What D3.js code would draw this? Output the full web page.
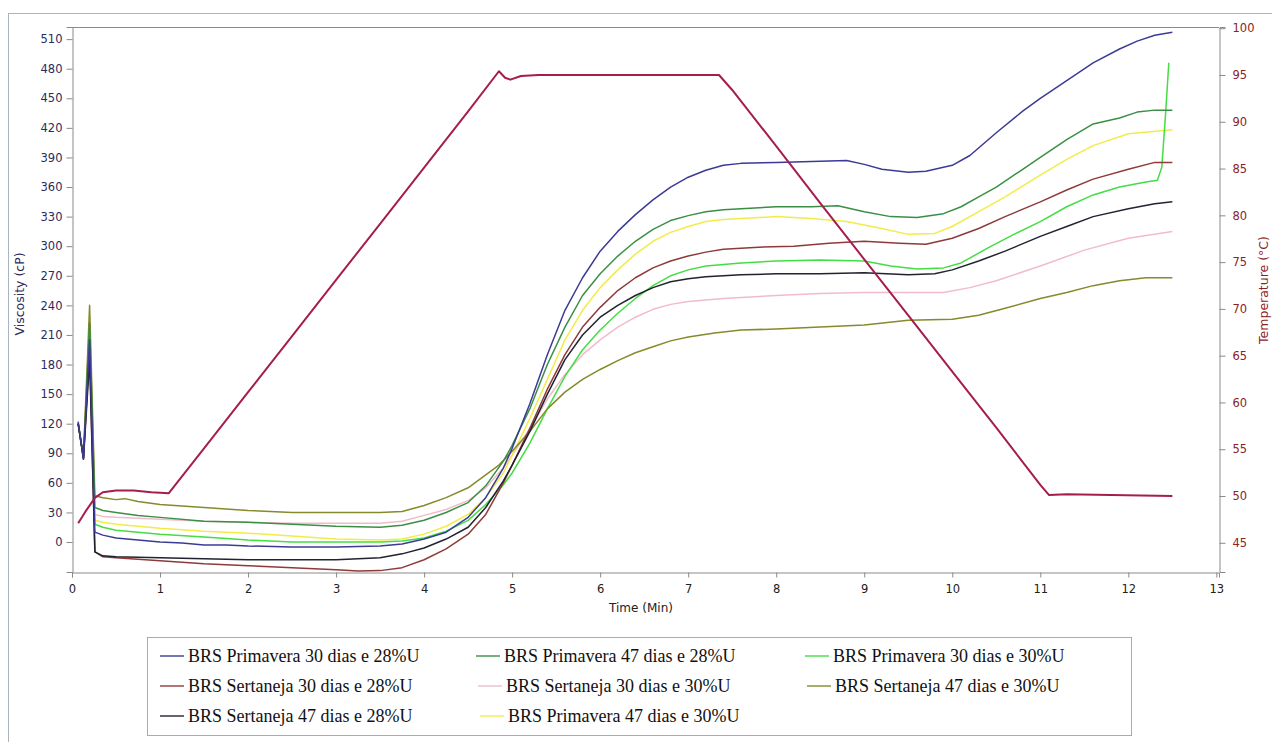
<!DOCTYPE html>
<html><head><meta charset="utf-8">
<script src="https://cdn.jsdelivr.net/npm/d3@7"></script>
<style>body{margin:0;background:#fff}svg{display:block}</style>
</head><body>
<svg id="c" width="1272" height="742"></svg>
<script>
// ---- data ----
const seriesNames = [
  "BRS Primavera 30 dias e 28%U","BRS Primavera 47 dias e 28%U","BRS Primavera 30 dias e 30%U",
  "BRS Sertaneja 30 dias e 28%U","BRS Sertaneja 30 dias e 30%U","BRS Sertaneja 47 dias e 30%U",
  "BRS Sertaneja 47 dias e 28%U","BRS Primavera 47 dias e 30%U"
];
const seriesColors = ["#3b3b96","#3a8f45","#44dd44","#8e3a3a","#f0bccb","#858a2a","#222230","#f2ec48"];
const xTicks = [0,1,2,3,4,5,6,7,8,9,10,11,12,13];
const yLeftTicks = [0,30,60,90,120,150,180,210,240,270,300,330,360,390,420,450,480,510];
const yRightTicks = [45,50,55,60,65,70,75,80,85,90,95,100];

// [time (min), viscosity (cP)]
const primavera30_28 = [[0.07,122],[0.13,84],[0.2,205],[0.26,10],[0.35,7],[0.5,4],[0.75,2],[1.0,0],[1.25,-1],[1.5,-3],[1.75,-3],[2.0,-4],[2.5,-5],[3.0,-5],[3.5,-4],[3.75,-2],[4.0,3],[4.25,10],[4.5,25],[4.7,45],[4.9,75],[5.0,95],[5.2,140],[5.4,190],[5.6,235],[5.8,268],[6.0,295],[6.2,315],[6.4,332],[6.6,347],[6.8,360],[7.0,370],[7.2,377],[7.4,382],[7.6,384],[8.0,385],[8.4,386],[8.8,387],[9.0,383],[9.2,378],[9.5,375],[9.7,376],[10.0,382],[10.2,392],[10.5,415],[10.8,437],[11.0,450],[11.3,468],[11.6,486],[11.9,500],[12.1,508],[12.3,514],[12.5,517]];
const primavera47_28 = [[0.07,120],[0.13,86],[0.2,222],[0.26,35],[0.35,32],[0.5,30],[0.75,27],[1.0,25],[1.5,21],[2.0,20],[2.5,18],[3.0,16],[3.5,15],[3.75,17],[4.0,22],[4.25,30],[4.5,40],[4.7,57],[4.9,82],[5.0,98],[5.2,135],[5.4,180],[5.6,218],[5.8,250],[6.0,272],[6.2,290],[6.4,305],[6.6,317],[6.8,326],[7.0,331],[7.2,335],[7.4,337],[7.6,338],[8.0,340],[8.4,340],[8.7,341],[9.0,335],[9.3,330],[9.6,329],[9.9,333],[10.1,340],[10.3,350],[10.5,360],[10.8,378],[11.0,390],[11.3,408],[11.6,424],[11.9,430],[12.1,436],[12.3,438],[12.5,438]];
const primavera30_30 = [[0.07,120],[0.13,86],[0.2,212],[0.26,18],[0.35,15],[0.5,12],[1.0,8],[1.5,5],[2.0,2],[2.5,0],[3.0,0],[3.5,0],[3.75,1],[4.0,4],[4.25,11],[4.5,22],[4.7,38],[4.9,58],[5.0,70],[5.2,100],[5.4,135],[5.6,168],[5.8,195],[6.0,215],[6.2,232],[6.4,247],[6.6,260],[6.8,270],[7.0,276],[7.2,280],[7.6,283],[8.0,285],[8.5,286],[9.0,285],[9.3,280],[9.6,277],[9.9,278],[10.1,283],[10.4,298],[10.7,312],[11.0,325],[11.3,340],[11.6,352],[11.9,360],[12.2,365],[12.33,367],[12.38,380],[12.42,430],[12.46,486]];
const sertaneja30_28 = [[0.07,120],[0.13,85],[0.2,195],[0.26,-10],[0.35,-15],[0.5,-16],[1.0,-19],[1.5,-22],[2.0,-24],[2.5,-26],[3.0,-28],[3.25,-29.5],[3.5,-29],[3.75,-26],[4.0,-18],[4.25,-7],[4.5,8],[4.7,28],[4.9,60],[5.0,78],[5.2,115],[5.4,155],[5.6,190],[5.8,218],[6.0,238],[6.2,255],[6.4,268],[6.6,278],[6.8,285],[7.0,290],[7.2,294],[7.4,297],[7.8,299],[8.2,300],[8.6,303],[9.0,305],[9.4,303],[9.7,302],[10.0,308],[10.3,318],[10.6,330],[11.0,345],[11.3,357],[11.6,368],[12.0,378],[12.3,385],[12.5,385]];
const sertaneja30_30 = [[0.07,120],[0.13,86],[0.2,200],[0.26,28],[0.35,26],[0.5,25],[1.0,23],[1.5,21],[2.0,20],[2.5,19],[3.0,19],[3.5,19],[3.75,21],[4.0,27],[4.25,33],[4.5,42],[4.7,55],[4.9,75],[5.0,88],[5.2,115],[5.4,145],[5.6,170],[5.8,190],[6.0,205],[6.2,218],[6.4,228],[6.6,236],[6.8,241],[7.0,244],[7.4,247],[8.0,250],[8.5,252],[9.0,253],[9.5,253],[9.9,253],[10.2,258],[10.5,265],[11.0,280],[11.5,296],[12.0,308],[12.5,315]];
const sertaneja47_30 = [[0.07,120],[0.13,86],[0.2,240],[0.26,47],[0.35,45],[0.5,43],[0.6,44],[0.75,41],[1.0,38],[1.5,35],[2.0,32],[2.5,30],[3.0,30],[3.5,30],[3.75,31],[4.0,37],[4.25,45],[4.5,55],[4.7,68],[4.85,78],[5.0,92],[5.2,112],[5.4,135],[5.6,152],[5.8,165],[6.0,175],[6.2,184],[6.4,192],[6.6,198],[6.8,204],[7.0,208],[7.3,212],[7.6,215],[8.0,216],[8.5,218],[9.0,220],[9.5,225],[10.0,226],[10.3,230],[10.6,237],[11.0,247],[11.3,253],[11.6,260],[11.9,265],[12.2,268],[12.5,268]];
const sertaneja47_28 = [[0.07,120],[0.13,84],[0.2,185],[0.26,-10],[0.35,-14],[0.5,-15],[1.0,-16],[1.5,-17],[2.0,-18],[2.5,-18],[3.0,-18],[3.5,-16],[3.75,-12],[4.0,-6],[4.25,3],[4.5,15],[4.7,35],[4.9,62],[5.0,78],[5.2,112],[5.4,150],[5.6,185],[5.8,210],[6.0,228],[6.2,240],[6.4,250],[6.6,258],[6.8,264],[7.0,267],[7.2,269],[7.6,271],[8.0,272],[8.5,272],[9.0,273],[9.5,271],[9.8,272],[10.0,276],[10.3,285],[10.6,295],[11.0,310],[11.3,320],[11.6,330],[12.0,338],[12.3,343],[12.5,345]];
const primavera47_30 = [[0.07,120],[0.13,86],[0.2,210],[0.26,22],[0.35,20],[0.5,18],[1.0,14],[1.5,11],[2.0,9],[2.5,6],[3.0,3],[3.5,2],[3.75,3],[4.0,8],[4.25,16],[4.5,28],[4.7,45],[4.9,70],[5.0,88],[5.2,125],[5.4,165],[5.6,205],[5.8,235],[6.0,258],[6.2,276],[6.4,292],[6.6,305],[6.8,314],[7.0,320],[7.2,325],[7.4,327],[7.8,329],[8.0,330],[8.4,328],[8.8,325],[9.2,318],[9.5,312],[9.8,313],[10.0,320],[10.3,335],[10.6,350],[11.0,372],[11.3,388],[11.6,402],[12.0,414],[12.5,418]];
// [time (min), temperature (°C)]
const temperature = [[0.07,47.1],[0.15,48.3],[0.26,49.8],[0.35,50.4],[0.5,50.6],[0.7,50.6],[0.9,50.4],[1.1,50.3],[1.5,55.1],[2.0,61.1],[2.5,67.1],[3.0,73.1],[3.5,79.1],[4.0,85.1],[4.5,91.1],[4.85,95.4],[4.92,94.7],[4.98,94.5],[5.1,94.9],[5.3,95.0],[6.0,95.0],[6.5,95.0],[7.0,95.0],[7.35,95.0],[7.5,93.4],[8.0,87.4],[8.5,81.3],[9.0,75.3],[9.5,69.3],[10.0,63.3],[10.5,57.3],[11.0,51.2],[11.1,50.1],[11.3,50.2],[11.8,50.1],[12.5,50.0]];

const viscSeries = [primavera30_28, primavera47_28, primavera30_30, sertaneja30_28, sertaneja30_30, sertaneja47_30, sertaneja47_28, primavera47_30];

// ---- layout ----
const svg = d3.select("#c");
const L = 72, R = 1219, T = 27, B = 572;
const x = d3.scaleLinear().domain([0, 13.03]).range([L, R]);
const yL = d3.scaleLinear().domain([-30.4, 522.3]).range([B, T]);
const yR = d3.scaleLinear().domain([41.88, 100.13]).range([B, T]);
const SANS = "'DejaVu Sans', sans-serif";
const SERIF = "'Liberation Serif', 'Times New Roman', serif";

// outer frame
svg.append("rect").attr("x",8.5).attr("y",13.5).attr("width",1300).attr("height",800)
  .attr("fill","none").attr("stroke","#a9b6c2").attr("stroke-width",1);

// plot frame top
svg.append("line").attr("x1",L).attr("x2",R).attr("y1",T+0.5).attr("y2",T+0.5).attr("stroke","#8a8a8a");

function styleAxis(g, color, dx, dy){
  g.attr("font-family",null).attr("font-size",null);
  g.selectAll("path,line").attr("stroke","#8a8a8a");
  const t = g.selectAll("text").attr("fill",color).style("font-family",SANS).style("font-size","11.5px");
  if(dx) t.attr("dx",dx);
  if(dy) t.attr("dy",dy);
}

// left axis
const gL = svg.append("g").attr("transform",`translate(${L+0.5},0)`);
gL.call(d3.axisLeft(yL).tickValues(d3.range(-30,521,5)).tickSize(3).tickFormat(""));
gL.call(d3.axisLeft(yL).tickValues(yLeftTicks).tickSize(6).tickFormat(d3.format("d")));
styleAxis(gL,"#2c2c5c","-1",null);

// right axis
const gR = svg.append("g").attr("transform",`translate(${R+0.5},0)`);
gR.call(d3.axisRight(yR).tickValues(d3.range(42,101,1)).tickSize(3).tickFormat(""));
gR.call(d3.axisRight(yR).tickValues(yRightTicks).tickSize(6).tickFormat(d3.format("d")));
styleAxis(gR,"#8b2323","4",null);

// bottom axis
const gB = svg.append("g").attr("transform",`translate(0,${B+0.5})`);
gB.call(d3.axisBottom(x).tickValues(xTicks).tickSize(5).tickFormat(d3.format("d")));
styleAxis(gB,"#222",null,"1.1em");

// axis titles
svg.append("text").attr("transform","translate(24,294) rotate(-90)").attr("text-anchor","middle")
  .style("font-family",SANS).style("font-size","12.5px").attr("fill","#2c2c5c").text("Viscosity (cP)");
svg.append("text").attr("transform","translate(1268,290) rotate(-90)").attr("text-anchor","middle")
  .style("font-family",SANS).style("font-size","12.5px").attr("fill","#8b2323").text("Temperature (°C)");
svg.append("text").attr("x",641).attr("y",612).attr("text-anchor","middle")
  .style("font-family",SANS).style("font-size","12px").attr("fill","#222").text("Time  (Min)");

// lines
svg.append("clipPath").attr("id","pc").append("rect").attr("x",L).attr("y",T).attr("width",R-L).attr("height",B-T);
const gLines = svg.append("g").attr("clip-path","url(#pc)");
const lineL = d3.line().x(d=>x(d[0])).y(d=>yL(d[1]));
const lineR = d3.line().x(d=>x(d[0])).y(d=>yR(d[1]));
const drawOrder = [4,7,2,5,1,3,6,0];
drawOrder.forEach(i=>{
  gLines.append("path").datum(viscSeries[i]).attr("d",lineL).attr("fill","none")
    .attr("stroke",seriesColors[i]).attr("stroke-width",1.5).attr("stroke-linejoin","round");
});
gLines.append("path").datum(temperature).attr("d",lineR).attr("fill","none")
  .attr("stroke","#a51d4f").attr("stroke-width",2).attr("stroke-linejoin","round");

// legend
svg.append("rect").attr("x",147.5).attr("y",637.5).attr("width",984).attr("height",98)
  .attr("fill","#fff").attr("stroke","#a4adb5");
const legPos = [[160,656],[476,656],[805,656],[160,686],[478,686],[807,686],[160,716],[480,716]];
seriesNames.forEach((n,i)=>{
  const [lx,ly] = legPos[i];
  svg.append("line").attr("x1",lx).attr("x2",lx+24).attr("y1",ly).attr("y2",ly)
    .attr("stroke",seriesColors[i]).attr("stroke-width",1.4);
  svg.append("text").attr("x",lx+28).attr("y",ly).attr("dy","0.35em")
    .style("font-family",SERIF).style("font-size","18px")
    .attr("fill","#111").text(n);
});
</script>
</body></html>
